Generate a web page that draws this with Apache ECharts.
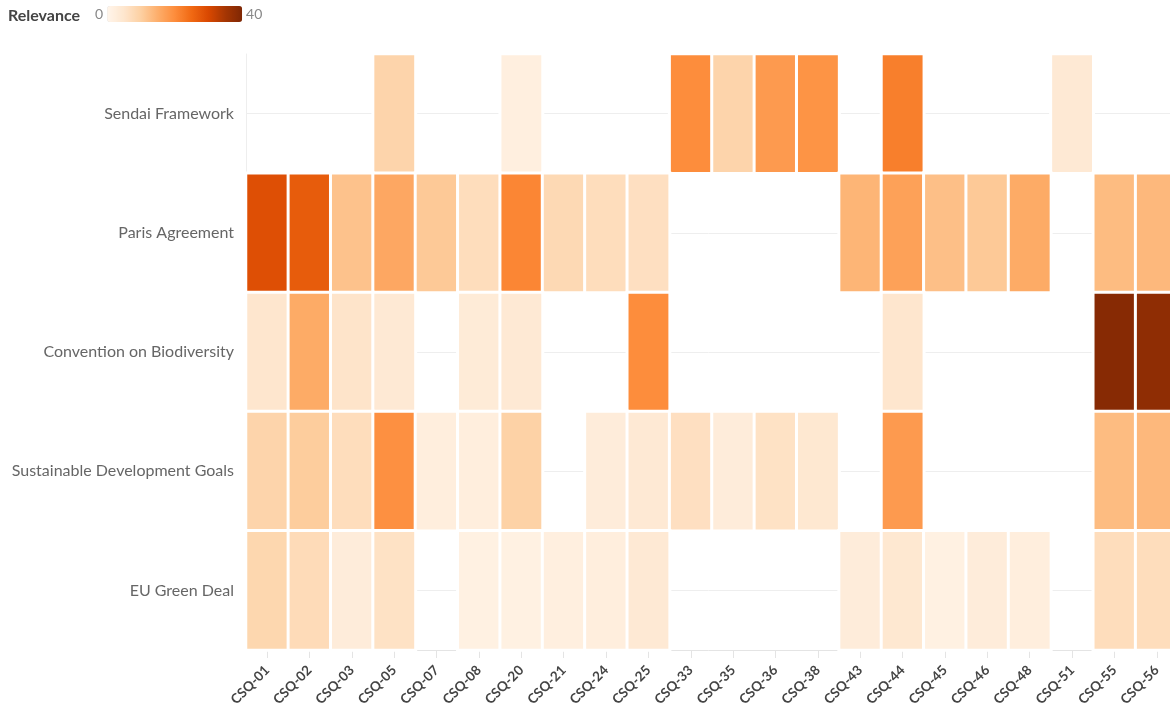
<!DOCTYPE html>
<html>
<head>
<meta charset="utf-8">
<script src="https://cdn.jsdelivr.net/npm/echarts@6/dist/echarts.min.js"></script>
<style>
html,body{margin:0;padding:0;background:#fff;}
#chart{width:1170px;height:710px;}
</style>
</head>
<body>
<div id="chart"></div>
<script>
const questions = ['CSQ-01','CSQ-02','CSQ-03','CSQ-05','CSQ-07','CSQ-08','CSQ-20','CSQ-21','CSQ-24','CSQ-25','CSQ-33','CSQ-35','CSQ-36','CSQ-38','CSQ-43','CSQ-44','CSQ-45','CSQ-46','CSQ-48','CSQ-51','CSQ-55','CSQ-56'];
const frameworks = ['Sendai Framework','Paris Agreement','Convention on Biodiversity','Sustainable Development Goals','EU Green Deal'];

// null = no relevance (blank cell)
const sendai      = [null,null,null,9,null,null,2,null,null,null,20,9,18,19,null,22,null,null,null,4,null,null];
const paris       = [29,27,12,16,11,7,21,8,7,6.5,null,null,null,null,14,17,12.5,11,15.5,null,13,13.5];
const biodiversity= [5,15.5,5.5,4,null,3.5,4,null,null,20,null,null,null,null,null,5,null,null,null,null,39,38];
const sdgs        = [9,10.5,7,19.5,2.5,2.5,9.5,null,3,4,6.5,3,6,4.5,null,18,null,null,null,null,13,13.5];
const greenDeal   = [8.5,7.5,3,6,null,1.5,1.5,2,2.5,4,null,null,null,null,3,4.5,1.5,3,2.5,null,7,7];

const rows = [sendai, paris, biodiversity, sdgs, greenDeal];
const relevanceMin = 0;
const relevanceMax = 40;

const cells = [];
rows.forEach(function (row, yi) {
  row.forEach(function (v, xi) {
    if (v !== null) cells.push([xi, yi, v]);
  });
});

const chart = echarts.init(document.getElementById('chart'));
const FONT = 'Lato, "Noto Sans", sans-serif';
chart.setOption({
  backgroundColor: '#fff',
  animation: false,
  textStyle: { fontFamily: FONT },
  title: {
    text: 'Relevance',
    left: 8, top: 8,
    padding: 0,
    textStyle: { fontSize: 16, fontWeight: 'bold', color: '#444', fontFamily: FONT }
  },
  visualMap: {
    type: 'continuous',
    min: relevanceMin,
    max: relevanceMax,
    orient: 'horizontal',
    calculable: false,
    padding: 0,
    left: 95, top: 6,
    itemWidth: 16,
    itemHeight: 135,
    textGap: 4,
    text: ['40', '0'],
    textStyle: { color: '#888', fontSize: 14, fontFamily: FONT },
    inRange: {
      color: ['#fff5eb','#fee6ce','#fdd0a2','#fdae6b','#fd8d3c','#f16913','#d94801','#a63603','#7f2704']
    }
  },
  grid: { left: 246, width: 932, top: 54, bottom: 60, containLabel: false, outerBoundsMode: 'none' },
  xAxis: {
    type: 'category',
    data: questions,
    splitArea: { show: false },
    splitLine: { show: false },
    axisLine: { show: true, lineStyle: { color: '#e4e4e4' } },
    axisTick: { show: true, alignWithLabel: true, length: 8, lineStyle: { color: '#e4e4e4' } },
    axisLabel: { rotate: 45, color: '#444', fontSize: 13.5, fontWeight: 'bold', margin: 18, interval: 0, fontFamily: FONT }
  },
  yAxis: {
    type: 'category',
    data: frameworks,
    inverse: true,
    splitArea: { show: false },
    splitLine: { show: true, alignWithLabel: true, lineStyle: { color: '#eeeeee' } },
    axisLine: { show: true, lineStyle: { color: '#eeeeee' } },
    axisTick: { show: false },
    axisLabel: { color: '#666', fontSize: 16, margin: 12, fontFamily: FONT }
  },
  series: [{
    type: 'heatmap',
    data: cells,
    itemStyle: { borderColor: '#fff', borderWidth: 3 },
    emphasis: { disabled: true }
  }]
});
</script>
</body>
</html>
